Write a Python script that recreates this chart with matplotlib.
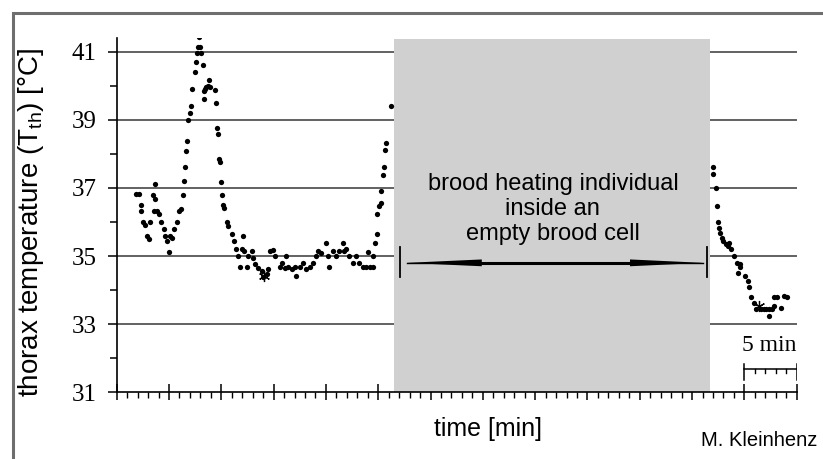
import matplotlib
matplotlib.use("Agg")
import matplotlib.pyplot as plt
from matplotlib.patches import Rectangle
from matplotlib.ticker import MultipleLocator

plt.rcParams['font.family'] = ['Liberation Sans', 'DejaVu Sans']

# thorax temperature before the bee enters the cell (time in min, Tth in °C)
t_before = [1.81, 2.12, 2.28, 2.35, 2.54, 2.66, 2.85, 3.07, 3.23, 3.49, 3.64, 3.64, 3.55, 3.87,
            4.02, 4.25, 4.50, 4.66, 4.82, 4.97, 5.13, 5.29, 5.51, 5.77, 5.92, 6.15, 6.34, 6.46,
            6.56, 6.65, 6.72, 6.81, 6.97, 7.10, 7.22, 7.44, 7.58, 7.67, 7.77, 7.82, 7.98, 8.07,
            8.24, 8.37, 8.37, 8.46, 8.56, 8.68, 8.87, 8.94, 9.41, 9.48, 9.57, 9.73, 9.79, 9.89,
            9.95, 10.11, 10.20, 10.30, 10.52, 10.67, 10.99, 11.21, 11.40, 11.62, 11.79, 11.95,
            12.04, 12.17, 12.42, 12.58, 12.90, 13.05, 13.21, 13.53, 13.85, 14.00, 14.33, 14.48,
            14.64, 14.90, 15.11, 15.59, 15.84, 16.06, 16.22, 16.38, 16.80, 17.02, 17.18, 17.49,
            17.81, 18.13, 18.44, 18.76, 19.08, 19.23, 19.55, 20.03, 20.18, 20.34, 20.66, 20.98,
            21.29, 21.61, 21.77, 21.93, 22.24, 22.56, 22.88, 23.19, 23.51, 23.83, 23.98, 24.21,
            24.46, 24.52, 24.71, 24.84, 24.93, 25.10, 25.26, 25.31, 25.41, 25.57, 25.67, 25.79,
            26.24]
temp_before = [36.81, 36.81, 36.51, 36.32, 36.00, 35.90, 35.59, 35.51, 36.00, 36.78, 37.10, 36.68,
               36.32, 36.32, 36.22, 36.00, 35.80, 35.59, 35.44, 35.12, 35.59, 35.54, 35.80, 36.00,
               36.32, 36.37, 36.78, 37.19, 37.62, 38.07, 38.39, 39.00, 39.20, 39.41, 39.90, 40.41,
               40.71, 40.95, 41.15, 41.44, 41.15, 40.95, 40.61, 39.83, 39.61, 39.91, 39.97, 40.00,
               40.17, 39.97, 39.87, 39.48, 38.76, 38.59, 37.86, 37.76, 37.17, 36.78, 36.51, 36.41,
               36.00, 35.88, 35.64, 35.44, 35.20, 35.00, 34.69, 35.20, 35.59, 35.15, 34.69, 35.00,
               35.15, 34.95, 34.76, 34.66, 34.56, 34.37, 34.46, 34.61, 35.15, 35.18, 35.00, 34.69,
               34.81, 34.66, 35.00, 34.69, 34.63, 34.69, 34.42, 34.69, 34.81, 34.63, 34.69, 34.81,
               35.00, 35.15, 35.10, 35.39, 35.00, 34.69, 35.15, 35.00, 35.15, 35.39, 35.15, 35.20,
               35.00, 34.81, 35.00, 34.81, 34.69, 34.69, 35.12, 34.69, 34.69, 35.00, 35.39, 35.64,
               36.22, 36.48, 36.56, 36.90, 37.39, 37.62, 38.10, 38.32, 39.41]

# after the bee leaves the cell
t_after = [57.03, 57.03, 57.25, 57.35, 57.51, 57.57, 57.67, 57.82, 57.98, 58.20, 58.43, 58.53,
           58.75, 59.00, 59.32, 59.54, 59.63, 59.38, 60.10, 60.33, 60.43, 60.65, 60.90, 61.15,
           61.60, 61.90, 62.10, 62.33, 62.33, 62.64, 62.86, 63.12, 62.86, 63.50, 63.81, 64.07]
temp_after = [37.62, 37.42, 37.00, 36.48, 36.00, 35.83, 35.68, 35.54, 35.44, 35.34, 35.29, 35.37,
              35.20, 35.00, 34.81, 34.76, 34.69, 34.49, 34.40, 34.27, 34.10, 33.81, 33.62, 33.46,
              33.44, 33.44, 33.44, 33.44, 33.24, 33.46, 33.81, 33.81, 33.53, 33.48, 33.83, 33.81]

# asterisk marks
t_star = [14.08, 61.4]
temp_star = [34.41, 33.53]

# time spent inside the empty cell (grey block)
inside_start, inside_end = 26.52, 56.68

y_ticks = [31, 33, 35, 37, 39, 41]

fig = plt.figure(figsize=(8.23, 4.59), dpi=100)
ax = fig.add_axes([0.1418, 0.1453, 0.8262, 0.7719])

# outer frame
fig.patches.append(Rectangle((13 / 823, -0.1), 1.2, 1 - 13 / 459 + 0.1, transform=fig.transFigure,
                             fill=False, edgecolor='#6e6e6e', linewidth=2.2))

ax.set_xlim(0, 65)
ax.set_ylim(31, 41.4)

for y in y_ticks[1:]:
    ax.plot([0, 65], [y, y], color='#555555', lw=1.3, zorder=1)

ax.add_patch(Rectangle((inside_start, 31), inside_end - inside_start, 41.36 - 31,
                       facecolor='#d0d0d0', edgecolor='none', zorder=2))

ax.plot(t_before, temp_before, 'o', color='black', ms=3.8, mew=0, zorder=3)
ax.plot(t_after, temp_after, 'o', color='black', ms=3.8, mew=0, zorder=3)
ax.plot(t_star, temp_star, marker=(6, 2, 0), ls='none', color='black', ms=8, mew=0.9, zorder=3)

for s in ['top', 'right']:
    ax.spines[s].set_visible(False)
for s in ['left', 'bottom']:
    ax.spines[s].set_linewidth(1.2)

ax.set_yticks(y_ticks)
ax.set_yticklabels([str(v) for v in y_ticks], family=['Liberation Serif', 'DejaVu Serif'], fontsize=18)
ax.yaxis.set_minor_locator(MultipleLocator(1))
ax.tick_params(axis='y', which='major', direction='out', length=6.5, width=1.1, pad=8)
ax.tick_params(axis='y', which='minor', direction='out', length=5, width=1.1)

ax.xaxis.set_major_locator(MultipleLocator(5))
ax.xaxis.set_minor_locator(MultipleLocator(1))
ax.tick_params(axis='x', which='major', direction='inout', length=12, width=1.1, labelbottom=False)
ax.tick_params(axis='x', which='minor', direction='out', length=4.5, width=1.0)

ax.set_ylabel(r'thorax temperature (T$_{\mathregular{th}}$) [°C]', fontsize=20)
ax.yaxis.set_label_coords(-0.104, 0.48)
ax.set_xlabel('time [min]', fontsize=18)
ax.xaxis.set_label_coords(0.546, -0.07)

ax.text(41.7, 36.38, 'brood heating individual\ninside an\nempty brood cell', ha='center', va='center',
        fontsize=17, linespacing=1.2, zorder=4)

# double arrow with long tapered heads
arrow_y, half_w = 34.80, 0.10
ax.plot([27.72, 56.08], [arrow_y, arrow_y], color='black', lw=1.0, zorder=4)
ax.plot([34.9, 49.07], [arrow_y, arrow_y], color='black', lw=2.2, zorder=4)
ax.fill([27.72, 34.9, 34.9], [arrow_y, arrow_y + half_w, arrow_y - half_w], color='black', lw=0, zorder=4)
ax.fill([56.08, 49.07, 49.07], [arrow_y, arrow_y + half_w, arrow_y - half_w], color='black', lw=0, zorder=4)
ax.plot([27.08, 27.08], [34.39, 35.27], color='black', lw=1.3, zorder=4)
ax.plot([56.4, 56.4], [34.39, 35.27], color='black', lw=1.3, zorder=4)

# 5 min scale bar
ax.plot([60, 65], [31.675, 31.675], color='black', lw=1.1, zorder=4)
ax.plot([60, 60], [31.36, 31.83], color='black', lw=1.1, zorder=4)
ax.plot([65, 65], [31.36, 31.83], color='black', lw=1.1, zorder=4)
for m in [61, 62, 63, 64]:
    ax.plot([m, m], [31.675, 31.58], color='black', lw=1.0, zorder=4)
ax.text(62.4, 32.36, '5 min', ha='center', va='center', fontsize=17,
        family=['Liberation Serif', 'DejaVu Serif'])

fig.text(817 / 823, 1 - 440 / 459, 'M. Kleinhenz', ha='right', va='center', fontsize=14.5)

fig.savefig('out.png', dpi=100)
